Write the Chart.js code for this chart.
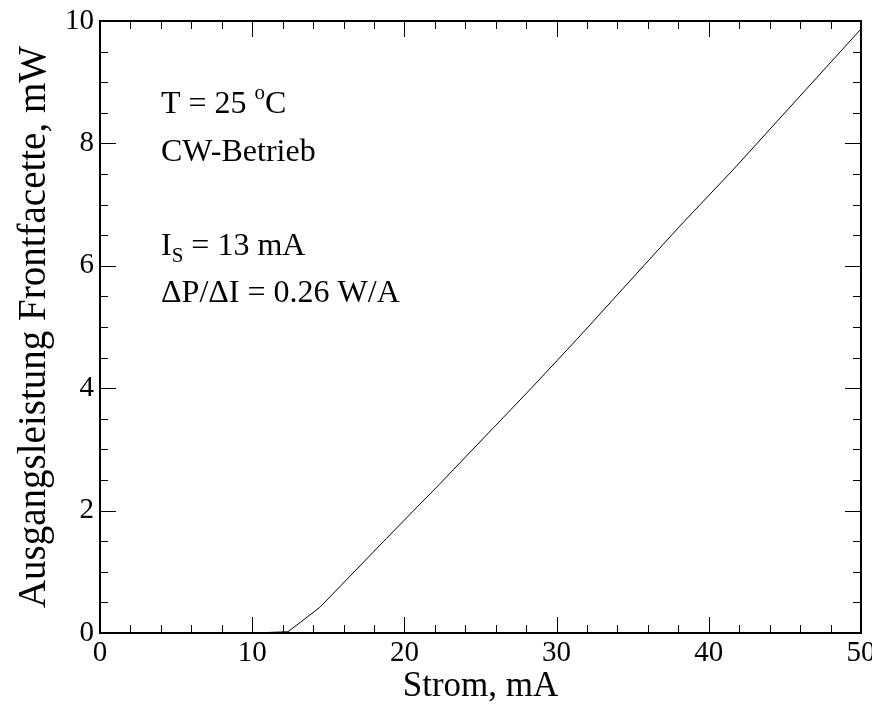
<!DOCTYPE html>
<html>
<head>
<meta charset="utf-8">
<script src="https://cdn.jsdelivr.net/npm/chart.js@4"></script>
<style>
  html, body { margin: 0; padding: 0; background: #fff; }
  #wrap { width: 872px; height: 710px; }
</style>
</head>
<body>
<div id="wrap"><canvas id="chart" width="872" height="710"></canvas></div>
<script>
// measured curve: current (mA) vs. front facet output power (mW)
const currentMA = [0, 10, 12.35, 14.45, 18.8, 22.3, 28.3, 31.3, 38.1, 41.6, 50];
const powerMW = [0, 0, 0.02, 0.42, 1.54, 2.43, 3.99, 4.79, 6.65, 7.57, 9.87];

const xTicks = [0, 10, 20, 30, 40, 50];
const yTicks = [0, 2, 4, 6, 8, 10];
const xMinorStep = 2;
const yMinorStep = 0.5;

const serif = "'Liberation Serif', 'Times New Roman', serif";

// frame + inward ticks on all four sides
const frameTicks = {
  id: "frameTicks",
  afterDraw(c) {
    const ctx = c.ctx;
    const a = c.chartArea;
    const xs = c.scales.x, ys = c.scales.y;
    ctx.save();
    ctx.strokeStyle = "#000";
    ctx.lineWidth = 1;
    ctx.beginPath();
    for (let v = xTicks[0] + xMinorStep; v < xTicks[xTicks.length - 1]; v += xMinorStep) {
      const px = Math.round(xs.getPixelForValue(v)) + 0.5;
      const len = xTicks.includes(v) ? 16 : 8;
      ctx.moveTo(px, a.bottom); ctx.lineTo(px, a.bottom - len);
      ctx.moveTo(px, a.top); ctx.lineTo(px, a.top + len);
    }
    for (let v = yTicks[0] + yMinorStep; v < yTicks[yTicks.length - 1]; v += yMinorStep) {
      const py = Math.round(ys.getPixelForValue(v)) + 0.5;
      const len = yTicks.includes(v) ? 16 : 8;
      ctx.moveTo(a.left, py); ctx.lineTo(a.left + len, py);
      ctx.moveTo(a.right, py); ctx.lineTo(a.right - len, py);
    }
    ctx.stroke();
    ctx.lineWidth = 2;
    ctx.strokeRect(a.left, a.top, a.right - a.left, a.bottom - a.top);
    ctx.restore();
  }
};

// text notes in the upper left corner
const notes = {
  id: "notes",
  afterDraw(c) {
    const ctx = c.ctx;
    const x0 = c.chartArea.left + 61;
    ctx.save();
    ctx.fillStyle = "#000";
    ctx.textBaseline = "alphabetic";
    const big = "32px " + serif, small = "21px " + serif;

    ctx.font = big;
    let s = "T = 25 ";
    ctx.fillText(s, x0, 113);
    let x = x0 + ctx.measureText(s).width;
    ctx.font = small;
    ctx.fillText("o", x, 99);
    x += ctx.measureText("o").width;
    ctx.font = big;
    ctx.fillText("C", x, 113);

    ctx.fillText("CW-Betrieb", x0, 161);

    ctx.fillText("I", x0, 255);
    x = x0 + ctx.measureText("I").width;
    ctx.font = small;
    ctx.fillText("S", x, 262);
    x += ctx.measureText("S").width;
    ctx.font = big;
    ctx.fillText(" = 13 mA", x, 255);

    ctx.fillText("\u0394P/\u0394I = 0.26 W/A", x0, 302);
    ctx.restore();
  }
};

new Chart(document.getElementById("chart"), {
  type: "scatter",
  data: {
    datasets: [{
      data: currentMA.map((v, i) => ({ x: v, y: powerMW[i] })),
      showLine: true,
      borderColor: "#000",
      borderWidth: 1,
      pointRadius: 0,
      tension: 0
    }]
  },
  options: {
    responsive: false,
    animation: false,
    layout: { padding: { top: 21, right: 11, left: 0, bottom: 0 } },
    plugins: { legend: { display: false }, tooltip: { enabled: false } },
    scales: {
      x: {
        type: "linear",
        min: xTicks[0],
        max: xTicks[xTicks.length - 1],
        grid: { display: false, drawTicks: false },
        border: { display: false },
        ticks: {
          stepSize: 10,
          padding: 3,
          color: "#000",
          font: { family: serif, size: 29 },
          maxRotation: 0
        },
        title: {
          display: true,
          text: "Strom, mA",
          color: "#000",
          font: { family: serif, size: 35 },
          padding: { top: 0, bottom: 2 }
        },
        afterFit(s) { s.height = 77; s.paddingLeft = 0; s.paddingRight = 0; }
      },
      y: {
        min: yTicks[0],
        max: yTicks[yTicks.length - 1],
        grid: { display: false, drawTicks: false },
        border: { display: false },
        ticks: {
          stepSize: 2,
          padding: 6,
          color: "#000",
          font: { family: serif, size: 29 }
        },
        title: {
          display: true,
          text: "Ausgangsleistung Frontfacette, mW",
          color: "#000",
          font: { family: serif, size: 39 },
          padding: { top: 11, bottom: 0 }
        },
        afterFit(s) { s.width = 100; s.paddingTop = 0; s.paddingBottom = 0; }
      }
    }
  },
  plugins: [frameTicks, notes]
});
</script>
</body>
</html>
